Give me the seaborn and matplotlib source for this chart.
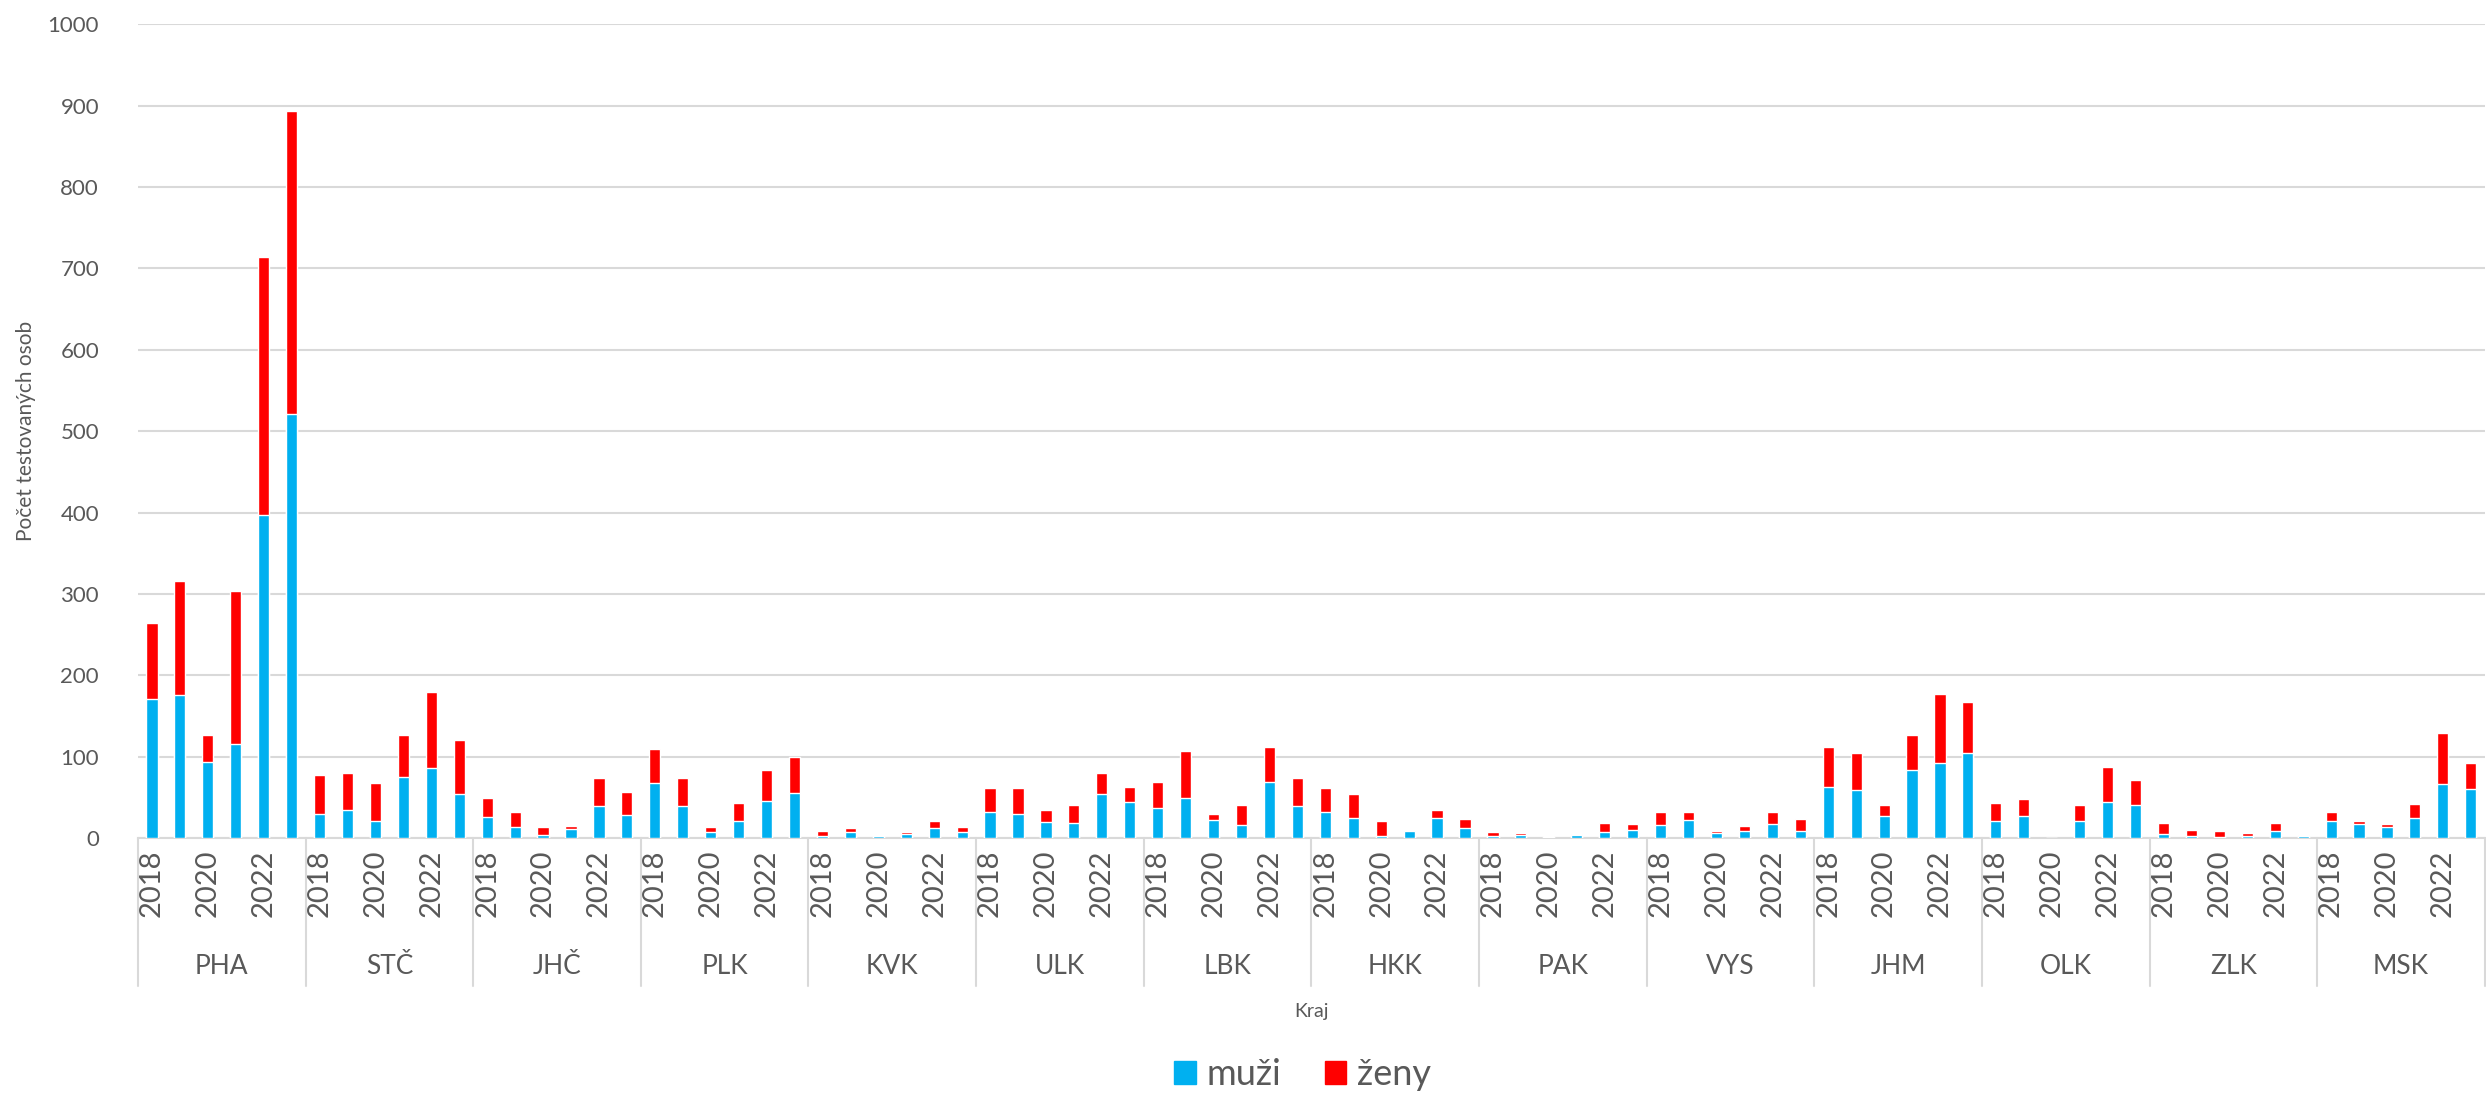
import matplotlib
matplotlib.use("Agg")
import matplotlib.pyplot as plt
import matplotlib.patches as mpatches
import matplotlib.transforms as mtransforms
import numpy as np
import pandas as pd
import seaborn as sns

regions = ["PHA", "STČ", "JHČ", "PLK", "KVK", "ULK", "LBK", "HKK", "PAK", "VYS", "JHM", "OLK", "ZLK", "MSK"]
years = [2018, 2019, 2020, 2021, 2022, 2023]

# muži per region, years 2018-2023
muzi = [
    [171, 176, 93, 115, 397, 521],   # PHA
    [30, 34, 21, 75, 86, 54],        # STČ
    [26, 14, 4, 11, 39, 28],         # JHČ
    [67, 39, 7, 21, 45, 55],         # PLK
    [2, 7, 3, 5, 12, 7],             # KVK
    [32, 30, 20, 19, 54, 44],        # ULK
    [37, 49, 22, 16, 69, 39],        # LBK
    [32, 24, 2, 8, 25, 12],          # HKK
    [3, 4, 1, 4, 7, 10],             # PAK
    [16, 22, 6, 8, 17, 8],           # VYS
    [63, 59, 27, 83, 92, 105],       # JHM
    [21, 27, 0, 21, 44, 41],         # OLK
    [5, 2, 1, 2, 9, 2],              # ZLK
    [21, 17, 13, 25, 66, 60],        # MSK
]
# celkem (muži + ženy)
celkem = [
    [264, 316, 126, 304, 714, 893],
    [77, 80, 68, 126, 180, 121],
    [49, 32, 13, 15, 74, 57],
    [110, 74, 14, 43, 83, 99],
    [9, 12, 3, 7, 21, 13],
    [61, 61, 35, 41, 80, 63],
    [69, 107, 29, 41, 112, 74],
    [61, 54, 21, 9, 35, 23],
    [7, 6, 2, 5, 19, 17],
    [32, 32, 9, 15, 32, 23],
    [112, 105, 41, 127, 177, 167],
    [43, 48, 0, 41, 87, 71],
    [18, 10, 9, 6, 19, 4],
    [32, 21, 17, 42, 129, 92],
]

rows = []
for r, m_list, t_list in zip(regions, muzi, celkem):
    for y, m, t in zip(years, m_list, t_list):
        rows.append({"kraj": r, "rok": y, "key": f"{r}|{y}", "muži": m, "ženy": t - m, "celkem": t})
df = pd.DataFrame(rows)
order = list(df["key"])

BLUE = "#00B0F0"
RED = "#FF0000"
TXT = "#595959"
GRID = "#D9D9D9"

sns.set_theme(style="white")
plt.rcParams["font.family"] = ["Lato", "DejaVu Sans"]

fig = plt.figure(figsize=(24.86, 10.95), dpi=100)
ax = fig.add_axes([0.0555, 0.2347, 0.9440, 0.7430])

sns.barplot(data=df, x="key", y="celkem", order=order, color=RED, width=0.4,
            saturation=1, ax=ax, zorder=3, errorbar=None)
sns.barplot(data=df, x="key", y="muži", order=order, color=BLUE, width=0.4,
            saturation=1, ax=ax, zorder=4, errorbar=None)

ax.set_ylim(0, 1000)
ax.set_xlim(-0.5, len(order) - 0.5)
ax.set_yticks(np.arange(0, 1001, 100))
ax.tick_params(axis="y", labelsize=16, labelcolor=TXT, length=0, pad=28)
ax.yaxis.grid(True, color=GRID, linewidth=1.5, zorder=0)
ax.set_axisbelow(True)

ax.set_xticks(range(len(order)))
ax.set_xticklabels([str(y) if y % 2 == 0 else "" for y in df["rok"]],
                   rotation=90, fontsize=21, color=TXT)
ax.tick_params(axis="x", length=0, pad=8)

for s in ["top", "right", "left"]:
    ax.spines[s].set_visible(False)
ax.spines["bottom"].set_color(GRID)
ax.spines["bottom"].set_linewidth(1.5)

trans = mtransforms.blended_transform_factory(ax.transData, ax.transAxes)
n = len(years)
for i, r in enumerate(regions):
    ax.text(i * n + (n - 1) / 2, -0.158, r, transform=trans, ha="center", va="center",
            fontsize=19, color=TXT)
for i in range(len(regions) + 1):
    ax.plot([i * n - 0.5, i * n - 0.5], [0, -0.182], transform=trans, color=GRID,
            linewidth=1.5, clip_on=False)

ax.set_xlabel("Kraj", fontsize=14, color=TXT, labelpad=62)
ax.set_ylabel("Počet testovaných osob", fontsize=15, color=TXT, labelpad=8)

handles = [mpatches.Patch(color=BLUE, label="muži"), mpatches.Patch(color=RED, label="ženy")]
fig.legend(handles=handles, loc="lower center", bbox_to_anchor=(0.524, -0.026), ncol=2,
           frameon=False, fontsize=26, labelcolor=TXT, handlelength=0.6, handleheight=0.6,
           handletextpad=0.3, columnspacing=1.2)

fig.savefig("out.png", dpi=100)
